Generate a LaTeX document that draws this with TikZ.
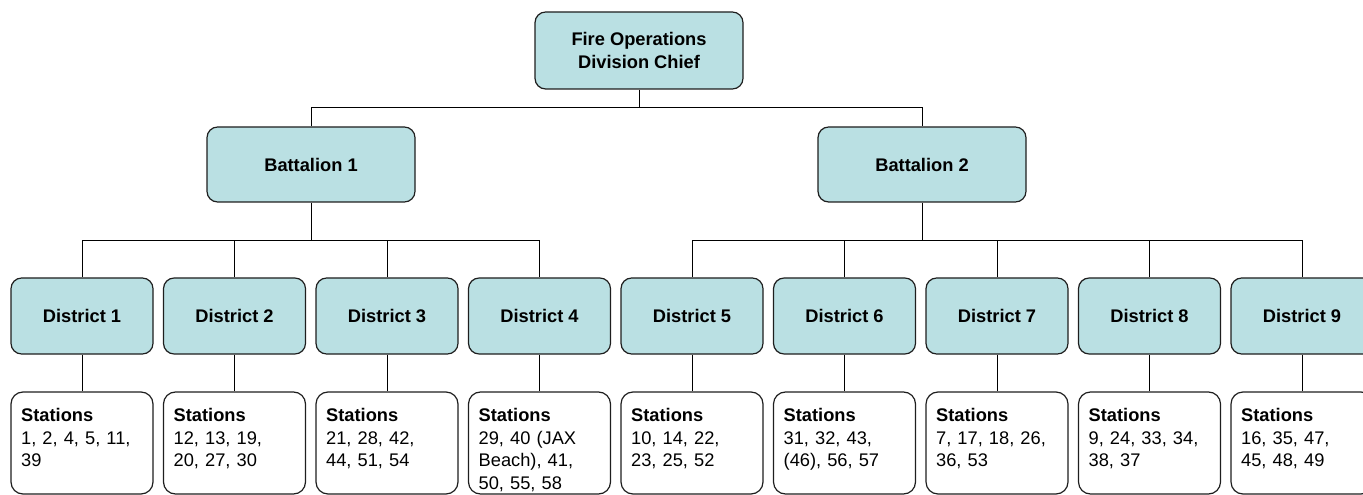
\documentclass[tikz,border=0pt]{standalone}
\usepackage{fontspec}
\setmainfont{Liberation Sans}
\definecolor{boxfill}{RGB}{186,224,227}
\definecolor{boxline}{RGB}{30,30,30}
\begin{document}
\begin{tikzpicture}[x=0.75pt,y=-0.75pt,
  unit/.style={draw=boxline, line width=0.9pt, rounded corners=8pt, fill=boxfill,
    align=center, inner sep=0pt, font=\fontsize{13.7}{17}\selectfont\bfseries},
  chief/.style={unit, minimum width=156pt, minimum height=57.75pt},
  battalion/.style={unit, minimum width=156pt, minimum height=56.25pt},
  district/.style={unit, minimum width=106.5pt, minimum height=57pt},
  stationbox/.style={draw=boxline, line width=0.9pt, rounded corners=9pt, fill=white,
    minimum width=106.5pt, minimum height=76.5pt, inner sep=0pt},
  stationtext/.style={anchor=north west, inner sep=0pt, align=left,
    text width=97pt, font=\fontsize{13.7}{16.9}\selectfont},
  link/.style={draw=black, line width=0.75pt}
]
\clip (0,0) rectangle (1363,495);

% top of the chart
\node[chief] (chief) at (639,50.5) {Fire Operations\\Division Chief};
\node[battalion] (b1) at (311,164.5) {Battalion 1};
\node[battalion] (b2) at (922,164.5) {Battalion 2};

% districts and their stations
\foreach \i/\x/\st in {
  1/82/{1, 2, 4, 5, 11,\\39},
  2/234.5/{12, 13, 19,\\20, 27, 30},
  3/387/{21, 28, 42,\\44, 51, 54},
  4/539.5/{29, 40 (JAX\\Beach), 41,\\50, 55, 58},
  5/692/{10, 14, 22,\\23, 25, 52},
  6/844.5/{31, 32, 43,\\(46), 56, 57},
  7/997/{7, 17, 18, 26,\\36, 53},
  8/1149.5/{9, 24, 33, 34,\\38, 37},
  9/1302/{16, 35, 47,\\45, 48, 49}} {
  \node[district] (d\i) at (\x,316) {District \i};
  \node[stationbox] (s\i) at (\x,443) {};
  \node[stationtext] (t\i) at ([shift={(10.5,17)}]s\i.north west)
    {\textbf{Stations}\\\st};
  \draw[link] (d\i.south) -- (s\i.north);
}

% connectors
\coordinate (busTop) at (0,108);
\coordinate (busMid) at (0,241);

\draw[link] (chief.south) -- (chief.south |- busTop);
\draw[link] (b1.north) |- (b2.north |- busTop) -- (b2.north);

\draw[link] (b1.south) -- (b1.south |- busMid);
\draw[link] (d1.north) |- (d4.north |- busMid) -- (d4.north);
\draw[link] (d2.north) -- (d2.north |- busMid);
\draw[link] (d3.north) -- (d3.north |- busMid);

\draw[link] (b2.south) -- (b2.south |- busMid);
\draw[link] (d5.north) |- (d9.north |- busMid) -- (d9.north);
\draw[link] (d6.north) -- (d6.north |- busMid);
\draw[link] (d7.north) -- (d7.north |- busMid);
\draw[link] (d8.north) -- (d8.north |- busMid);
\end{tikzpicture}
\end{document}
